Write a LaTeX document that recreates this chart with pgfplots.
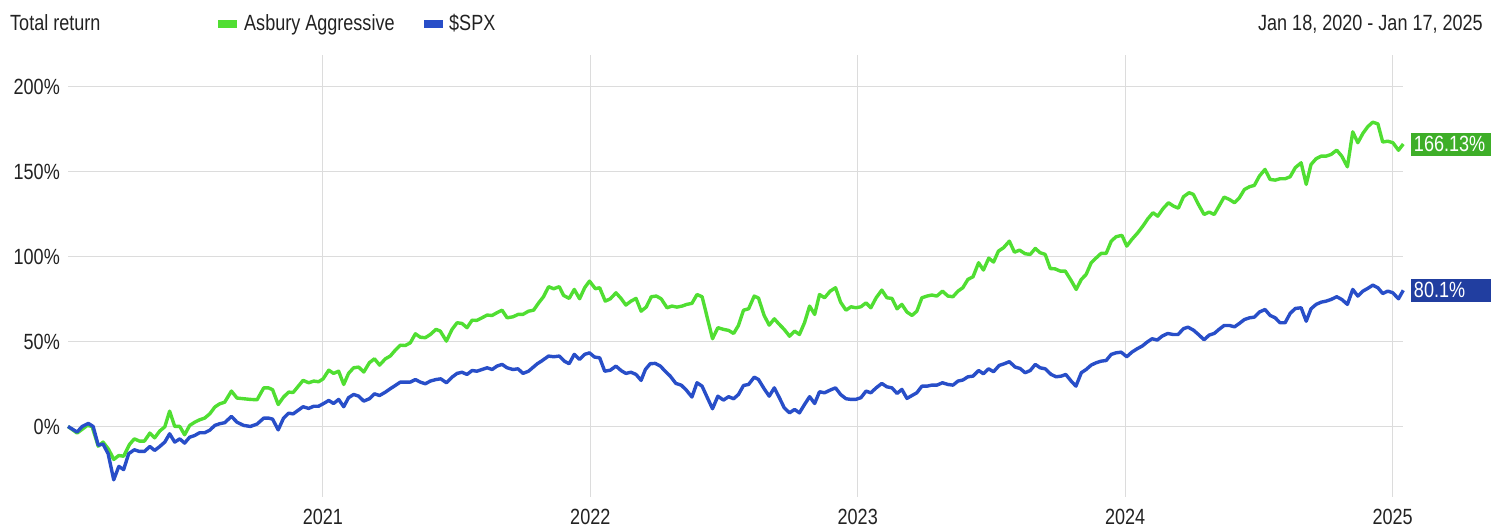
\documentclass[border=0pt]{standalone}
\usepackage{fontspec}
\setmainfont{Liberation Sans}[FakeStretch=0.82]
\usepackage{pgfplots}
\usepackage{pgfplotstable}
\pgfplotsset{compat=1.18}
\definecolor{grn}{RGB}{80,222,50}
\definecolor{grnbox}{RGB}{62,174,40}
\definecolor{blu}{RGB}{40,78,200}
\definecolor{blubox}{RGB}{33,62,160}
\definecolor{gridc}{RGB}{220,220,220}
\definecolor{txt}{RGB}{34,34,34}
\newcommand{\fs}{\fontsize{22}{24}\selectfont}
\pgfplotstableread{
x y
2020.047 0
2020.081 -3.9
2020.119 0.6
2020.137 0
2020.160 -11.6
2020.178 -9.2
2020.199 -13.5
2020.218 -19.4
2020.237 -17.1
2020.255 -17.5
2020.277 -10.6
2020.295 -7.3
2020.314 -8.6
2020.333 -8.6
2020.353 -3.9
2020.371 -6.7
2020.390 -2.7
2020.409 -0.2
2020.427 9.0
2020.446 0
2020.465 0
2020.483 -4.9
2020.502 0.6
2020.521 2.5
2020.539 3.9
2020.558 4.9
2020.577 7.4
2020.596 11.4
2020.614 13.3
2020.633 14.3
2020.658 20.8
2020.679 16.7
2020.704 16.3
2020.729 15.9
2020.754 15.7
2020.779 22.7
2020.797 22.7
2020.812 21.6
2020.833 12.9
2020.853 17.3
2020.872 20.2
2020.889 20.0
2020.926 27.1
2020.947 25.7
2020.966 26.7
2020.984 26.3
2021.001 28.0
2021.022 33.1
2021.040 31.2
2021.059 32.5
2021.078 24.7
2021.096 31.2
2021.115 34.5
2021.134 34.9
2021.153 32.0
2021.174 37.5
2021.193 39.8
2021.212 36.1
2021.234 39.8
2021.252 41.4
2021.271 44.9
2021.290 47.8
2021.308 47.6
2021.327 49.2
2021.346 54.5
2021.364 52.5
2021.383 52.2
2021.402 54.1
2021.423 57.1
2021.439 56.1
2021.462 50.2
2021.483 57.1
2021.502 61.0
2021.520 60.6
2021.539 58.1
2021.558 62.5
2021.576 62.4
2021.595 63.9
2021.614 65.5
2021.633 65.3
2021.651 66.9
2021.670 68.4
2021.689 63.9
2021.711 64.5
2021.730 65.9
2021.748 65.9
2021.769 67.8
2021.788 68.4
2021.807 72.7
2021.825 76.3
2021.844 82.2
2021.863 81.0
2021.884 82.2
2021.900 77.1
2021.921 75.3
2021.940 80.6
2021.960 75.1
2021.979 81.6
2021.997 85.5
2022.019 81.0
2022.035 81.6
2022.056 73.7
2022.075 75.1
2022.096 78.6
2022.115 75.3
2022.133 71.4
2022.152 73.7
2022.171 75.3
2022.190 67.8
2022.209 70.2
2022.228 76.3
2022.247 76.7
2022.265 75.1
2022.287 69.8
2022.305 70.8
2022.324 70.2
2022.343 70.8
2022.361 71.8
2022.380 72.4
2022.399 77.6
2022.418 76.3
2022.436 64.9
2022.457 51.6
2022.477 58.1
2022.498 57.1
2022.517 56.5
2022.536 54.7
2022.554 59.4
2022.573 68.4
2022.592 69.2
2022.613 76.7
2022.629 75.5
2022.650 65.3
2022.669 59.6
2022.688 63.3
2022.707 60.0
2022.725 57.1
2022.745 53.1
2022.764 56.1
2022.782 54.1
2022.801 61.0
2022.820 70.8
2022.839 65.9
2022.857 77.6
2022.876 75.7
2022.897 79.6
2022.917 81.6
2022.936 73.1
2022.956 68.4
2022.975 70.4
2022.993 69.8
2023.012 70.4
2023.031 72.7
2023.049 69.8
2023.069 75.7
2023.090 80.2
2023.109 75.7
2023.128 75.3
2023.147 69.2
2023.165 71.8
2023.184 67.3
2023.203 65.3
2023.221 67.8
2023.240 75.7
2023.259 76.7
2023.277 77.3
2023.296 76.7
2023.317 79.6
2023.337 76.7
2023.356 76.3
2023.375 79.6
2023.393 81.6
2023.412 86.5
2023.431 88.0
2023.452 96.3
2023.470 92.0
2023.490 99.0
2023.508 96.7
2023.526 103.1
2023.545 105.1
2023.567 109.0
2023.586 102.5
2023.605 103.7
2023.626 101.6
2023.645 101.2
2023.664 104.7
2023.682 102.2
2023.701 101.2
2023.720 92.9
2023.738 92.7
2023.757 91.4
2023.776 91.4
2023.797 86.1
2023.817 80.6
2023.836 86.5
2023.854 89.4
2023.873 96.3
2023.892 99.2
2023.910 101.8
2023.929 101.8
2023.948 109.0
2023.966 111.6
2023.988 112.4
2024.006 106.1
2024.025 110.0
2024.047 113.9
2024.066 117.8
2024.085 122.2
2024.104 125.7
2024.122 123.7
2024.141 128.0
2024.162 131.6
2024.181 129.6
2024.199 128.4
2024.218 135.1
2024.239 137.5
2024.255 136.5
2024.274 130.6
2024.295 124.7
2024.314 126.1
2024.333 124.7
2024.351 129.6
2024.370 134.9
2024.390 133.5
2024.409 131.6
2024.427 134.5
2024.446 139.4
2024.465 141.0
2024.483 141.8
2024.502 147.3
2024.523 151.2
2024.542 145.3
2024.561 144.9
2024.579 145.7
2024.598 145.7
2024.617 146.9
2024.636 152.2
2024.658 155.1
2024.677 142.4
2024.695 154.1
2024.714 157.5
2024.733 159.0
2024.751 159.0
2024.770 160.0
2024.791 162.5
2024.810 159.0
2024.831 152.7
2024.851 173.3
2024.870 166.9
2024.889 172.4
2024.907 176.3
2024.926 179.0
2024.945 178.0
2024.963 167.3
2024.982 167.8
2025.001 166.9
2025.022 162.5
2025.040 166.13
}\asbury
\pgfplotstableread{
x y
2020.047 0
2020.081 -3.3
2020.100 0
2020.123 1.8
2020.141 0
2020.160 -11.0
2020.178 -10.4
2020.197 -16.0
2020.218 -31.4
2020.237 -23.5
2020.255 -25.4
2020.274 -16.0
2020.295 -13.7
2020.314 -14.7
2020.333 -14.7
2020.353 -11.8
2020.371 -14.1
2020.390 -11.8
2020.409 -9.2
2020.427 -4.3
2020.446 -9.2
2020.465 -7.3
2020.483 -9.8
2020.502 -6.3
2020.521 -5.3
2020.539 -3.7
2020.558 -3.7
2020.577 -2.2
2020.596 0.6
2020.614 1.6
2020.633 2.2
2020.658 5.9
2020.679 2.5
2020.704 0.6
2020.729 0
2020.754 1.4
2020.779 4.9
2020.797 4.9
2020.812 4.3
2020.833 -2.0
2020.853 4.9
2020.872 7.8
2020.889 7.4
2020.926 11.6
2020.947 10.6
2020.966 11.9
2020.984 11.9
2021.003 13.5
2021.022 15.3
2021.040 13.5
2021.059 15.9
2021.078 11.6
2021.096 16.9
2021.115 18.8
2021.134 17.8
2021.153 14.9
2021.174 16.3
2021.193 19.2
2021.212 18.2
2021.234 20.2
2021.252 22.2
2021.271 24.1
2021.290 26.1
2021.308 26.1
2021.327 26.1
2021.346 27.6
2021.364 26.1
2021.383 25.1
2021.402 26.7
2021.423 27.6
2021.441 28.0
2021.462 25.7
2021.483 29.0
2021.502 31.2
2021.520 31.9
2021.539 30.6
2021.558 32.9
2021.576 32.5
2021.595 33.5
2021.614 34.5
2021.633 33.5
2021.651 35.5
2021.670 36.5
2021.689 34.5
2021.711 33.5
2021.730 33.9
2021.748 31.2
2021.769 32.5
2021.787 34.9
2021.802 36.9
2021.817 38.4
2021.844 41.4
2021.863 41.0
2021.884 41.4
2021.903 38.4
2021.921 36.9
2021.940 42.4
2021.960 39.4
2021.979 42.4
2021.997 43.3
2022.016 40.8
2022.035 40.4
2022.054 32.5
2022.075 33.1
2022.096 35.5
2022.115 32.9
2022.133 31.2
2022.152 31.9
2022.171 30.6
2022.190 27.1
2022.206 33.5
2022.224 36.9
2022.243 37.1
2022.262 35.5
2022.280 32.5
2022.299 29.6
2022.320 25.3
2022.340 24.3
2022.359 21.4
2022.380 17.3
2022.399 25.7
2022.418 23.7
2022.436 17.5
2022.457 10.4
2022.477 17.8
2022.498 15.5
2022.517 17.5
2022.536 16.3
2022.554 18.8
2022.573 24.1
2022.592 24.7
2022.613 29.0
2022.629 27.6
2022.650 22.2
2022.669 17.8
2022.688 22.7
2022.707 16.9
2022.725 11.0
2022.745 8.0
2022.764 10.0
2022.782 8.0
2022.801 12.9
2022.820 17.5
2022.839 13.5
2022.857 20.4
2022.876 19.8
2022.897 21.4
2022.917 22.7
2022.936 18.8
2022.956 16.3
2022.975 15.9
2022.993 15.9
2023.012 16.9
2023.031 20.8
2023.049 19.8
2023.069 22.7
2023.090 25.3
2023.109 23.3
2023.128 22.7
2023.147 19.4
2023.165 21.8
2023.184 16.5
2023.203 18.2
2023.221 19.8
2023.240 23.7
2023.259 23.7
2023.277 24.3
2023.296 24.3
2023.317 25.7
2023.337 24.7
2023.356 24.3
2023.375 26.7
2023.393 27.3
2023.412 29.2
2023.431 29.6
2023.452 32.9
2023.470 31.0
2023.489 33.9
2023.508 32.2
2023.529 35.9
2023.548 36.9
2023.567 38.1
2023.589 34.9
2023.607 34.1
2023.626 31.6
2023.645 32.9
2023.664 36.5
2023.682 34.5
2023.701 33.9
2023.723 30.6
2023.742 29.2
2023.761 29.6
2023.778 30.6
2023.798 26.7
2023.816 23.7
2023.836 31.6
2023.854 33.5
2023.873 36.1
2023.892 37.5
2023.910 38.4
2023.929 38.8
2023.948 42.4
2023.966 43.3
2023.985 43.7
2024.006 41.0
2024.025 43.7
2024.045 45.7
2024.064 47.3
2024.082 49.6
2024.101 51.6
2024.120 50.8
2024.138 53.1
2024.159 54.7
2024.179 54.1
2024.198 54.1
2024.218 57.5
2024.235 58.4
2024.255 56.7
2024.274 54.1
2024.295 51.0
2024.314 53.7
2024.333 54.7
2024.351 57.1
2024.370 59.4
2024.390 59.4
2024.409 58.6
2024.427 60.6
2024.446 62.9
2024.465 63.9
2024.483 64.3
2024.502 67.3
2024.523 68.8
2024.542 65.3
2024.561 63.9
2024.579 61.0
2024.598 61.0
2024.617 66.5
2024.636 69.4
2024.658 69.8
2024.677 61.9
2024.695 69.2
2024.714 71.8
2024.733 73.1
2024.751 73.7
2024.770 74.7
2024.791 76.3
2024.810 74.7
2024.831 71.8
2024.851 80.6
2024.870 76.7
2024.889 79.6
2024.907 81.2
2024.926 83.1
2024.945 81.6
2024.963 78.2
2024.982 79.6
2025.001 78.6
2025.022 75.1
2025.040 80.1
}\spx
\begin{document}
\begin{tikzpicture}
\path (0pt,0pt) rectangle (1491pt,527pt);
\node[anchor=base west, inner sep=0pt, font=\fs, text=txt] at (10pt,496pt) {Total return};
\fill[grn] (217.5pt,499pt) rectangle (237pt,506.5pt);
\node[anchor=base west, inner sep=0pt, font=\fs, text=txt] at (244pt,496pt) {Asbury Aggressive};
\fill[blu] (424pt,499pt) rectangle (442.5pt,506.5pt);
\node[anchor=base west, inner sep=0pt, font=\fs, text=txt] at (449pt,496pt) {\$SPX};
\node[anchor=base east, inner sep=0pt, font=\fs, text=txt] at (1483pt,496pt) {Jan 18, 2020 - Jan 17, 2025};
\begin{axis}[
  at={(68pt,30pt)}, anchor=south west, scale only axis,
  width=1335pt, height=442pt,
  xmin=2020.047, xmax=2025.039, ymin=-41.5, ymax=218.5,
  axis line style={draw=none},
  tick style={draw=none},
  xtick={2021,2022,2023,2024,2025},
  xticklabels={2021,2022,2023,2024,2025},
  ytick={0,50,100,150,200},
  yticklabels={0\%,50\%,100\%,150\%,200\%},
  xmajorgrids, ymajorgrids,
  grid style={gridc, line width=1.2pt},
  tick label style={font=\fs, text=txt},
  yticklabel style={inner sep=0pt, anchor=east, xshift=-8pt},
  xticklabel style={inner sep=0pt, anchor=north, yshift=-12pt},
  clip=false,
]
\addplot[grn, line width=3.4pt, line join=round] table[x=x,y=y] {\asbury};
\addplot[blu, line width=3.4pt, line join=round] table[x=x,y=y] {\spx};
\node[anchor=west, fill=grnbox, text=white, inner xsep=3pt, inner ysep=0pt, minimum height=23pt, text width=74pt, align=left, font=\fs, xshift=7.5pt] at (axis cs:2025.040,166.13) {166.13\%};
\node[anchor=west, fill=blubox, text=white, inner xsep=3pt, inner ysep=0pt, minimum height=23pt, text width=74pt, align=left, font=\fs, xshift=7.5pt] at (axis cs:2025.040,80.1) {80.1\%};
\end{axis}
\end{tikzpicture}
\end{document}
